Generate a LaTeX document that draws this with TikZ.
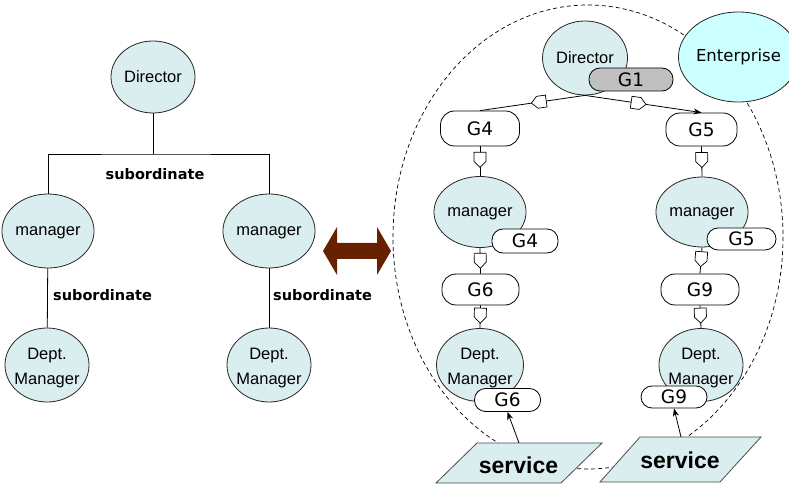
\documentclass[tikz,border=0pt]{standalone}
\usepackage{fontspec}
\setmainfont{Liberation Sans}
\newfontfamily\dvs{DejaVu Sans}
\usetikzlibrary{shapes.geometric,decorations.markings,arrows.meta}
\definecolor{nodefill}{RGB}{218,238,240}
\definecolor{entfill}{RGB}{204,255,255}
\definecolor{gfill}{RGB}{192,192,192}
\definecolor{arrbrown}{RGB}{102,34,0}
\begin{document}
\begin{tikzpicture}[x=1bp,y=-1bp,
  ell/.style={ellipse, draw=black!85, fill=nodefill, line width=0.8bp, inner sep=0pt,
    font=\fontsize{16.5bp}{25bp}\selectfont, text depth=0pt},
  elltext/.style={align=center, inner sep=0pt, font=\fontsize{16.5bp}{25bp}\selectfont},
  ent/.style={ellipse, draw=black!85, fill=entfill, line width=0.8bp, inner sep=0pt,
    font=\dvs\fontsize{16.5bp}{20bp}\selectfont},
  gbox/.style={draw=black, fill=white, line width=0.8bp, rounded corners=11bp, inner sep=0pt,
    font=\dvs\fontsize{18.5bp}{20bp}\selectfont},
  gbig/.style={gbox, rounded corners=14bp},
  sub/.style={font=\dvs\bfseries\fontsize{14.5bp}{16bp}\selectfont},
  svc/.style={draw=black!70, fill=nodefill, line width=0.8bp},
  svctext/.style={anchor=base, font=\bfseries\fontsize{23bp}{24bp}\selectfont},
  conn/.style={draw=black, line width=0.8bp},
  tipstyle/.style={-{Stealth[length=8bp,width=6bp]}},
  pent/.style={postaction={decorate}, decoration={markings, mark=at position #1 with {%
    \draw[fill=white, line width=0.7bp, line join=miter, solid]
      (-7.5,-6) -- (1.5,-6) -- (7.5,0) -- (1.5,6) -- (-7.5,6) -- cycle;}}}
]
\fill[white] (0,0) rectangle (789,485);
\useasboundingbox (0,0) rectangle (789,485);

% ---------------- left tree ----------------
\node[ell, minimum width=84bp, minimum height=72bp] (dirL) at (153,77) {Director};
\node[ell, minimum width=84bp, minimum height=74bp] (mgrL1) at (48,231) {manager};
\node[ell, minimum width=84bp, minimum height=74bp] (mgrL2) at (269,231) {manager};
\node[ell, minimum width=84bp, minimum height=74bp] (depL1) at (47,365) {};
\node[elltext] (depL1t) at (47,368) {Dept.\\Manager};
\node[ell, minimum width=84bp, minimum height=74bp] (depL2) at (269,365) {};
\node[elltext] (depL2t) at (269,368) {Dept.\\Manager};
\coordinate (bus) at (153,154);
\draw[conn] (dirL.south) -- (bus);
\draw[conn] (mgrL1.north) |- (bus) -| (mgrL2.north);
\draw[conn] (mgrL1) -- (depL1);
\draw[conn] (mgrL2) -- (depL2);
\node[sub] (subA) at (155,174) {subordinate};
\node[sub] (subB) at (102.5,295) {subordinate};
\node[sub] (subC) at (322.5,295) {subordinate};

% ---------------- double arrow ----------------
\fill[arrbrown] (323,251) -- (337,227) -- (337,243) -- (377,243) -- (377,227) -- (391,251)
  -- (377,275) -- (377,259) -- (337,259) -- (337,275) -- cycle;

% ---------------- right side ----------------
\draw[line width=0.7bp, dash pattern=on 4bp off 3bp] (588,237) ellipse [x radius=195, y radius=232];

\node[ell, minimum width=85bp, minimum height=74bp] (dirR) at (585,58) {Director};
\node[ent, minimum width=100bp, minimum height=90bp] (ent) at (738.5,57) {Enterprise};
\node[gbox, fill=gfill, minimum width=84bp, minimum height=23bp] (g1) at (631,79.5) {G1};
\node[gbig, minimum width=79bp, minimum height=35bp] (g4) at (480,128.5) {G4};
\node[gbig, minimum width=71bp, minimum height=33bp] (g5) at (701.5,129.5) {G5};

\node[ell, minimum width=85bp, minimum height=71bp] (mgrR1) at (480,212) {manager};
\node[ell, minimum width=85bp, minimum height=70bp] (mgrR2) at (702,212) {manager};
\node[gbox, minimum width=66bp, minimum height=24bp] (g4s) at (525,241) {G4};
\node[gbox, minimum width=69bp, minimum height=22bp] (g5s) at (741.5,239) {G5};

\node[gbig, minimum width=77bp, minimum height=31bp] (g6) at (480.5,289.5) {G6};
\node[gbig, minimum width=78bp, minimum height=31bp] (g9) at (700,289.5) {G9};

\node[ell, minimum width=87bp, minimum height=73bp] (depR1) at (480,365) {};
\node[elltext] (depR1t) at (480,368) {Dept.\\Manager};
\node[ell, minimum width=84bp, minimum height=73bp] (depR2) at (701,365) {};
\node[elltext] (depR2t) at (701,368) {Dept.\\Manager};
\node[gbox, minimum width=66bp, minimum height=23bp] (g6s) at (507.5,400) {G6};
\node[gbox, minimum width=66bp, minimum height=22bp] (g9s) at (674,397) {G9};

% connectors with markers
\draw[conn, pent=0.44] (dirR.south) -- (g4.north);
\draw[conn, pent=0.46, tipstyle] (dirR.south) -- (g5.north);
\draw[conn, pent=0.45] (g4.south) -- (mgrR1.north);
\draw[conn, pent=0.45] (g5.south) -- (mgrR2.north);
\draw[conn, pent=0.5] (mgrR1.south) -- (g6.north);
\draw[conn, pent=0.45] (mgrR2.south) -- (g9.north);
\draw[conn, pent=0.45] (g6.south) -- (depR1.north);
\draw[conn, pent=0.45] (g9.south) -- (depR2.north);

% services
\draw[svc] (436,483) -- (477,443) -- (602,443) -- (561,483) -- cycle;
\node[svctext] (svcL) at (518.5,473) {service};
\coordinate (svcLtop) at (519,443);
\draw[conn, tipstyle] (svcLtop) -- (g6s.south);

\draw[svc] (600,482) -- (640,437) -- (761,437) -- (720,482) -- cycle;
\node[svctext] (svcR) at (680,468) {service};
\coordinate (svcRtop) at (681,437);
\draw[conn, tipstyle] (svcRtop) -- (g9s.south);
\end{tikzpicture}
\end{document}
